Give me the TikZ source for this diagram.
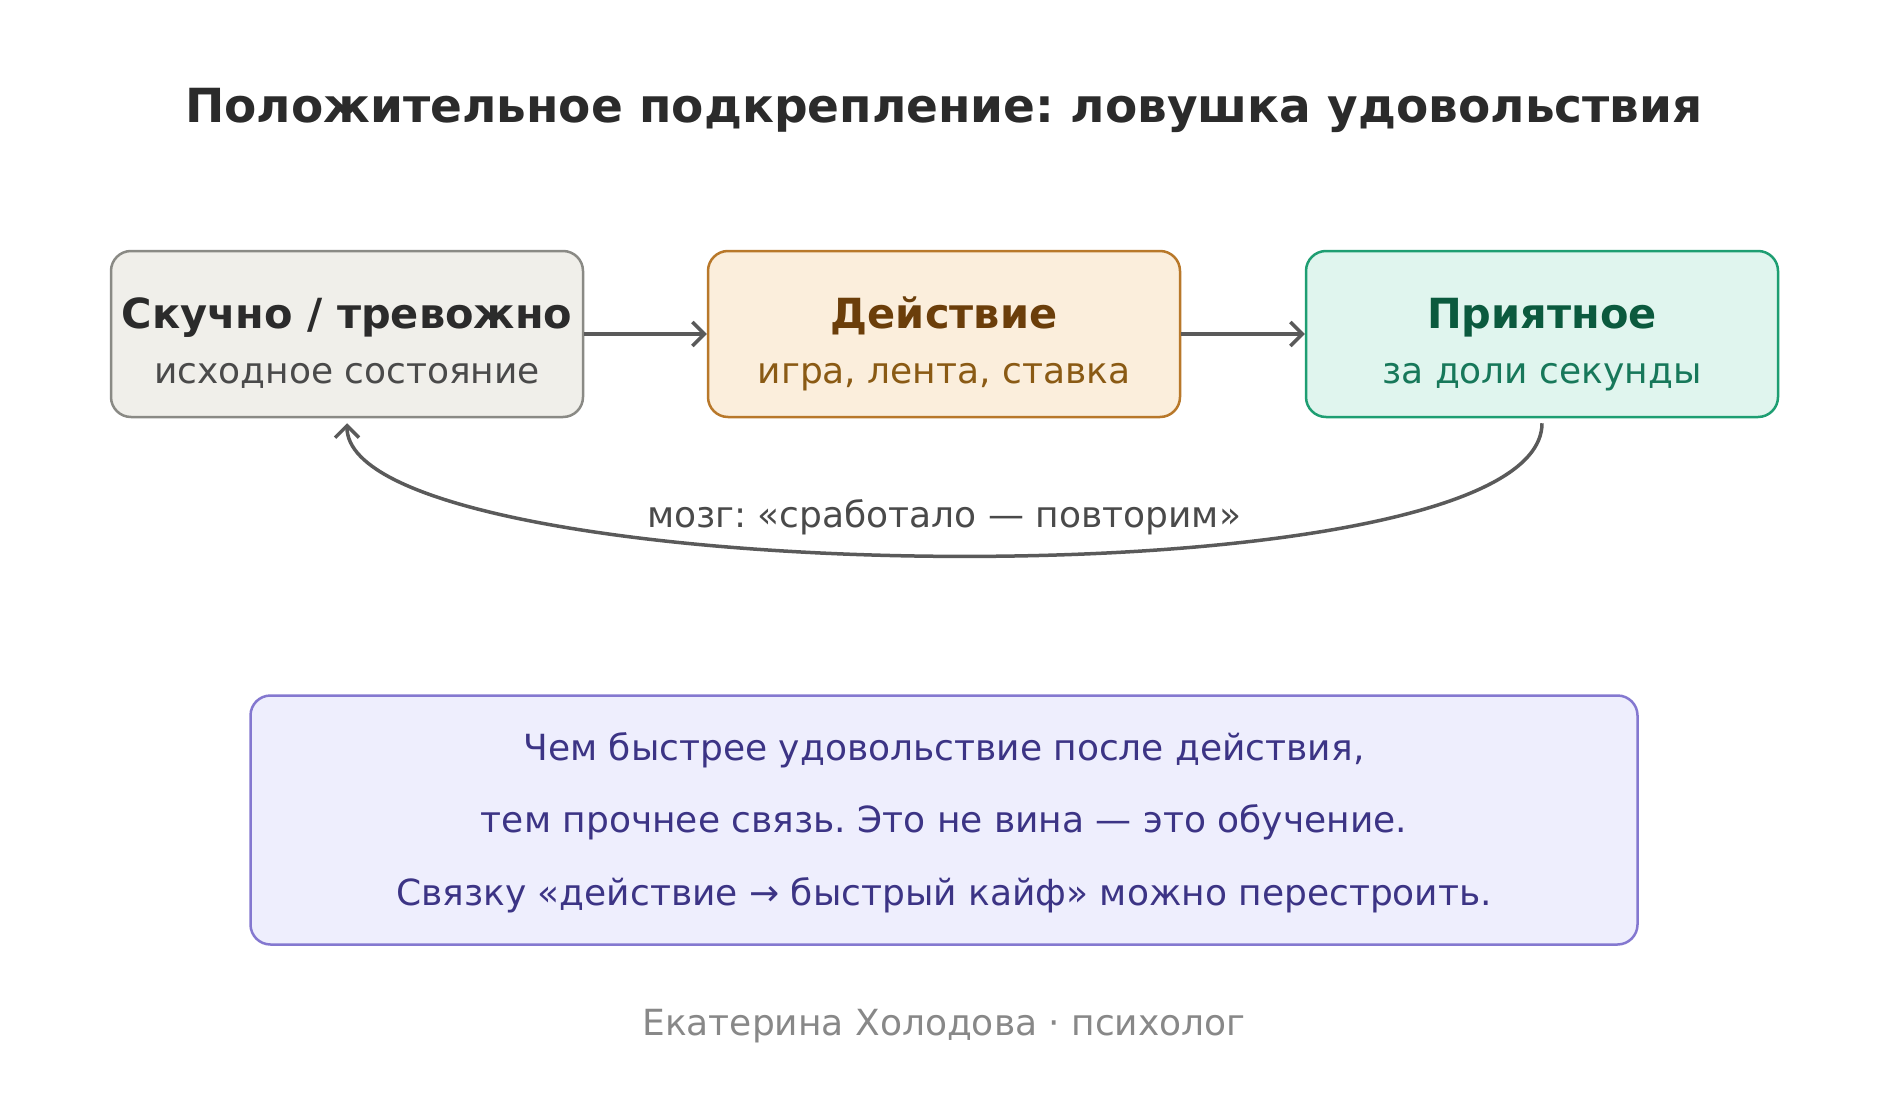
\documentclass[tikz,border=0pt]{standalone}
\usepackage{fontspec}
\setmainfont{DejaVu Sans}
\usepackage{tikz}
\usetikzlibrary{arrows.meta}
\usepackage{xcolor}
\frenchspacing

\definecolor{inkmain}{HTML}{2B2B2B}
\definecolor{greyfill}{HTML}{F0EFEA}
\definecolor{greyline}{HTML}{8A8A85}
\definecolor{greysub}{HTML}{4A4A4A}
\definecolor{amberfill}{HTML}{FBEEDC}
\definecolor{amberline}{HTML}{B8782A}
\definecolor{amberhead}{HTML}{6B3E0A}
\definecolor{ambersub}{HTML}{8A5A14}
\definecolor{mintfill}{HTML}{E0F5EE}
\definecolor{mintline}{HTML}{1E9E72}
\definecolor{minthead}{HTML}{0B5A3E}
\definecolor{mintsub}{HTML}{17785A}
\definecolor{notefill}{HTML}{EEEEFD}
\definecolor{noteline}{HTML}{8478D0}
\definecolor{notetext}{HTML}{3C3485}
\definecolor{flowline}{HTML}{5A5A5A}
\definecolor{footgrey}{HTML}{888888}

\tikzset{
  stagebox/.style={draw, line width=2.5pt, rounded corners=20pt,
    minimum width=472pt, minimum height=166pt, inner sep=0pt},
  headtext/.style={font=\fontsize{41.5}{48}\selectfont\bfseries, anchor=base},
  subtext/.style={font=\fontsize{36}{42}\selectfont, anchor=base},
  flow/.style={draw=flowline, line width=3.5pt,
    -{Straight Barb[length=12pt,width=24pt,line width=3.5pt]}}
}

\begin{document}
\begin{tikzpicture}[x=1pt,y=-1pt]
  \useasboundingbox (0,0) rectangle (1889,1097);

  \node[font=\fontsize{47}{56}\selectfont\bfseries, text=inkmain, anchor=base]
    (title) at (944,123) {Положительное подкрепление: ловушка удовольствия};

  % three stages
  \node[stagebox, draw=greyline, fill=greyfill] (b1) at (347,334) {};
  \node[stagebox, draw=amberline, fill=amberfill] (b2) at (944,334) {};
  \node[stagebox, draw=mintline, fill=mintfill] (b3) at (1542,334) {};

  \foreach \b/\hd/\sb/\hc/\sc in {
      b1/{Скучно / тревожно}/{исходное состояние}/inkmain/greysub,
      b2/{Действие}/{игра, лента, ставка}/amberhead/ambersub,
      b3/{Приятное}/{за доли секунды}/minthead/mintsub} {
    \node[headtext, text=\hc] (\b h) at ([yshift=6pt]\b.center) {\hd};
    \node[subtext, text=\sc] (\b s) at ([yshift=-49pt]\b.center) {\sb};
  }

  \draw[flow] (b1.east) -- (b2.west);
  \draw[flow] (b2.east) -- (b3.west);

  % loop back
  \draw[flow] ([yshift=-5pt]b3.south) .. controls (1542,610) and (347,590) .. ([yshift=-5pt]b1.south);
  \node[subtext, text=greysub] (loop) at (944,527) {мозг: «сработало — повторим»};

  % note
  \node[draw=noteline, fill=notefill, line width=2.5pt, rounded corners=20pt,
    minimum width=1387pt, minimum height=249pt] (note) at (944,820) {};
  \foreach \t [count=\i from 0] in {
      {Чем быстрее удовольствие после действия,},
      {тем прочнее связь. Это не вина — это обучение.},
      {Связку «действие → быстрый кайф» можно перестроить.}} {
    \node[subtext, text=notetext] (note\i) at (944,760+72.5*\i) {\t};
  }

  \node[subtext, text=footgrey] (foot) at (944,1035) {Екатерина Холодова · психолог};
\end{tikzpicture}
\end{document}
